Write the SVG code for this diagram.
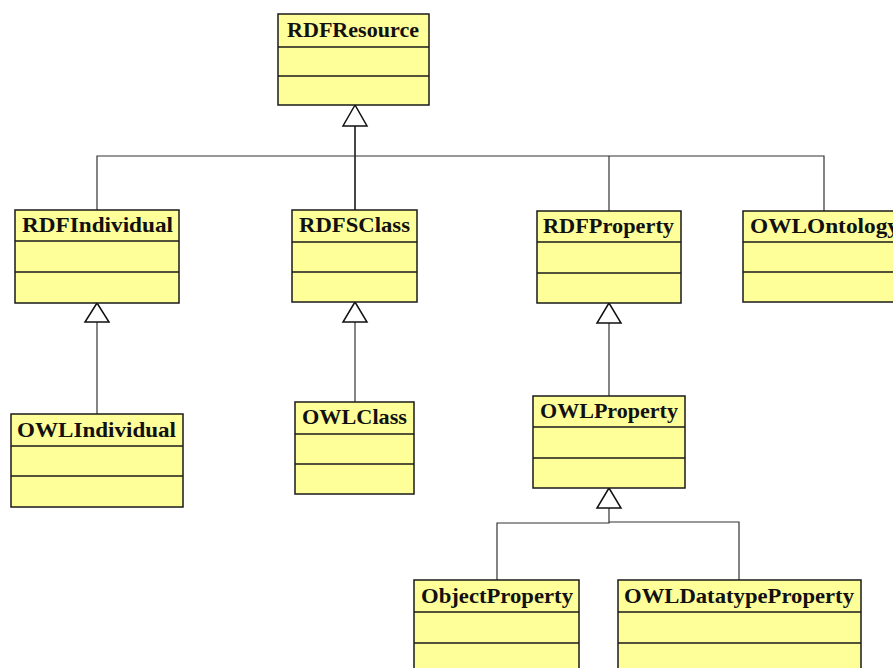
<svg xmlns="http://www.w3.org/2000/svg" width="893" height="668" viewBox="0 0 893 668">
  <style>
    .box { fill: #ffff99; stroke: #1a1a1a; stroke-width: 1.5; }
    .sep { stroke: #1a1a1a; stroke-width: 1.5; }
    .name { font-family: "Liberation Serif", "DejaVu Serif", serif; font-weight: bold; font-size: 21px; fill: #111; }
    .conn { fill: none; stroke: #333; stroke-width: 1.2; }
    .head { fill: #fff; stroke: #111; stroke-width: 1.5; }
  </style>
  <rect width="893" height="668" fill="#fff"/>

  <!-- generalization connectors -->
  <g id="connectors">
    <polyline class="conn" points="97,210 97,156 824,156 824,211"/>
    <line class="conn" x1="355" y1="126" x2="355" y2="210" style="stroke-width:1.8"/>
    <line class="conn" x1="609" y1="156" x2="609" y2="211"/>
    <polygon class="head" points="355,105 343,126 367,126"/>

    <line class="conn" x1="97" y1="322" x2="97" y2="414"/>
    <polygon class="head" points="97,303 85,322 109,322"/>

    <line class="conn" x1="355" y1="322" x2="355" y2="402"/>
    <polygon class="head" points="355,302 343,322 367,322"/>

    <line class="conn" x1="609" y1="323" x2="609" y2="396"/>
    <polygon class="head" points="609,303 597,323 621,323"/>

    <polyline class="conn" points="497,580 497,523 609,523 609,508"/>
    <polyline class="conn" points="609,522 739,522 739,580"/>
    <polygon class="head" points="609,488 597,508 621,508"/>
  </g>

  <g id="RDFResource">
    <rect class="box" x="278" y="14" width="151" height="91"/>
    <line class="sep" x1="278" y1="47" x2="429" y2="47"/>
    <line class="sep" x1="278" y1="76" x2="429" y2="76"/>
    <text class="name" x="287" y="37" textLength="132" lengthAdjust="spacingAndGlyphs">RDFResource</text>
  </g>

  <g id="RDFIndividual">
    <rect class="box" x="15" y="210" width="164" height="93"/>
    <line class="sep" x1="15" y1="241" x2="179" y2="241"/>
    <line class="sep" x1="15" y1="272" x2="179" y2="272"/>
    <text class="name" x="22" y="232" textLength="151" lengthAdjust="spacingAndGlyphs">RDFIndividual</text>
  </g>

  <g id="RDFSClass">
    <rect class="box" x="292" y="210" width="125" height="92"/>
    <line class="sep" x1="292" y1="242" x2="417" y2="242"/>
    <line class="sep" x1="292" y1="272" x2="417" y2="272"/>
    <text class="name" x="299" y="232" textLength="111" lengthAdjust="spacingAndGlyphs">RDFSClass</text>
  </g>

  <g id="RDFProperty">
    <rect class="box" x="537" y="211" width="144" height="92"/>
    <line class="sep" x1="537" y1="242" x2="681" y2="242"/>
    <line class="sep" x1="537" y1="273" x2="681" y2="273"/>
    <text class="name" x="543" y="233" textLength="131" lengthAdjust="spacingAndGlyphs">RDFProperty</text>
  </g>

  <g id="OWLOntology">
    <rect class="box" x="743" y="211" width="160" height="91"/>
    <line class="sep" x1="743" y1="242" x2="903" y2="242"/>
    <line class="sep" x1="743" y1="272" x2="903" y2="272"/>
    <text class="name" x="750" y="233" textLength="149" lengthAdjust="spacingAndGlyphs">OWLOntology</text>
  </g>

  <g id="OWLIndividual">
    <rect class="box" x="11" y="414" width="172" height="93"/>
    <line class="sep" x1="11" y1="446" x2="183" y2="446"/>
    <line class="sep" x1="11" y1="476" x2="183" y2="476"/>
    <text class="name" x="17" y="437" textLength="159" lengthAdjust="spacingAndGlyphs">OWLIndividual</text>
  </g>

  <g id="OWLClass">
    <rect class="box" x="295" y="402" width="119" height="92"/>
    <line class="sep" x1="295" y1="434" x2="414" y2="434"/>
    <line class="sep" x1="295" y1="464" x2="414" y2="464"/>
    <text class="name" x="302" y="424" textLength="105" lengthAdjust="spacingAndGlyphs">OWLClass</text>
  </g>

  <g id="OWLProperty">
    <rect class="box" x="533" y="396" width="152" height="92"/>
    <line class="sep" x1="533" y1="427" x2="685" y2="427"/>
    <line class="sep" x1="533" y1="458" x2="685" y2="458"/>
    <text class="name" x="540" y="418" textLength="138" lengthAdjust="spacingAndGlyphs">OWLProperty</text>
  </g>

  <g id="ObjectProperty">
    <rect class="box" x="414" y="580" width="165" height="100"/>
    <line class="sep" x1="414" y1="612" x2="579" y2="612"/>
    <line class="sep" x1="414" y1="643" x2="579" y2="643"/>
    <text class="name" x="421" y="603" textLength="152" lengthAdjust="spacingAndGlyphs">ObjectProperty</text>
  </g>

  <g id="OWLDatatypeProperty">
    <rect class="box" x="618" y="580" width="243" height="100"/>
    <line class="sep" x1="618" y1="612" x2="861" y2="612"/>
    <line class="sep" x1="618" y1="643" x2="861" y2="643"/>
    <text class="name" x="624" y="603" textLength="230" lengthAdjust="spacingAndGlyphs">OWLDatatypeProperty</text>
  </g>
</svg>
